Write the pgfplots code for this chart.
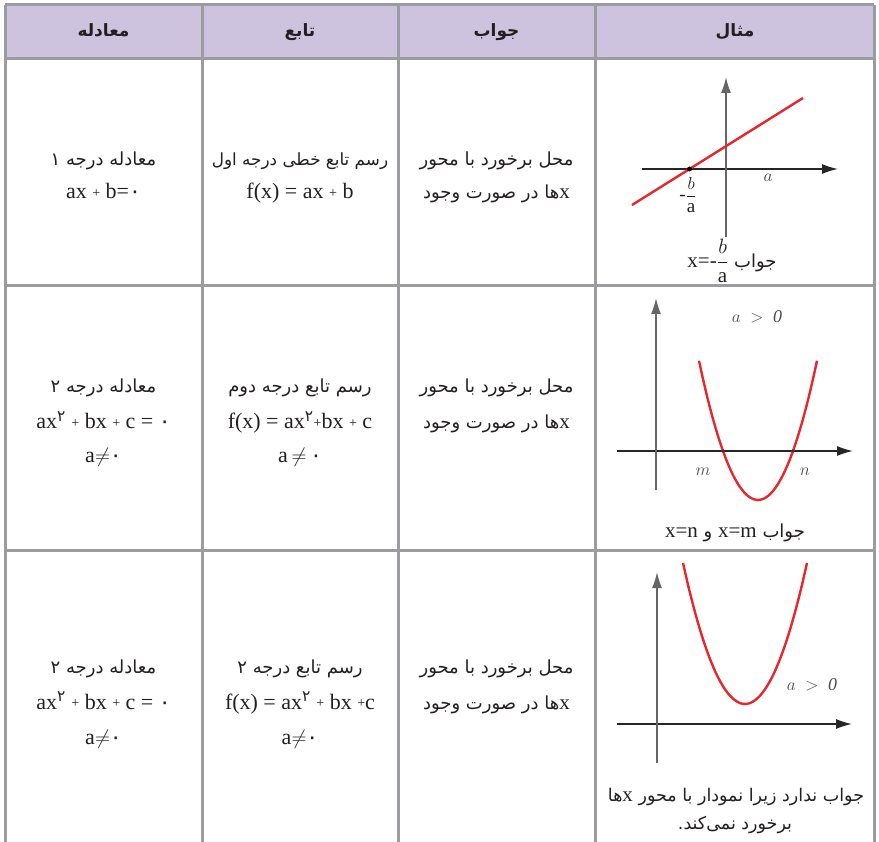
\documentclass[border=0pt]{standalone}
\usepackage{amsmath}
\usepackage{pgfplots}
\pgfplotsset{compat=1.18}
\usetikzlibrary{arrows.meta}
\usepackage{fontspec}
\setmainfont{Liberation Serif}
\newfontfamily\fa[Script=Arabic]{DejaVu Sans}
\TeXXeTstate=1

\definecolor{gridgray}{HTML}{9B9BA0}
\definecolor{headfill}{HTML}{CEC3DF}
\definecolor{curvered}{HTML}{E8262B}
\definecolor{ink}{HTML}{231F20}

\newcommand\pl{\raisebox{1.8pt}{\fontsize{14}{14}\selectfont+}}
\newcommand\fz{{\fa ۰}}
\newcommand\lx[1]{\beginL{\rmfamily\fontsize{21}{21}\selectfont #1}\endL}

\pgfplotsset{
  mini/.style={
    axis lines=middle, x=1pt, y=1pt, anchor=south west,
    enlargelimits=false, clip=false,
    xtick=\empty, ytick=\empty,
    x axis line style={-{Latex[length=16pt,width=10pt]}, black!85, line width=1.4pt},
    y axis line style={-{Latex[length=16pt,width=10pt]}, black!60, line width=1.4pt},
  },
  curve/.style={curvered, line width=2.4pt, smooth, no marks},
}

\begin{document}
\begin{tikzpicture}[x=1pt,y=1pt]
\useasboundingbox (0,0) rectangle (879,-842);

% table frame
\fill[headfill] (5,-5) rectangle (874,-59);
\begin{scope}[gridgray, line width=3pt]
  \draw (5,-5) -- (874,-5);
  \draw (5,-59) -- (874,-59);
  \draw (5,-286) -- (874,-286);
  \draw (5,-550) -- (874,-550);
  \foreach \xx in {5,202,398,595,874} \draw (\xx,-5) -- (\xx,-842);
\end{scope}

% header
\begin{scope}[every node/.style={anchor=base, text=ink, font=\fa\bfseries\fontsize{17}{17}\selectfont}]
  \node at (103.5,-37) {\beginR معادله\endR};
  \node at (300,-37) {\beginR تابع\endR};
  \node at (496.5,-37) {\beginR جواب\endR};
  \node at (735,-37) {\beginR مثال\endR};
\end{scope}

% body text
\begin{scope}[every node/.style={anchor=base, text=ink, inner sep=0pt}]
  \tikzset{fa/.style={font=\fa\fontsize{18}{18}\selectfont}, la/.style={font=\rmfamily\fontsize{22}{22}\selectfont}}
  % row 1
  \node[fa] at (103.5,-166) {\beginR معادله درجه ۱\endR};
  \node[la] at (103.5,-199) {ax \pl\ b=\fz};
  \node[fa, font=\fa\fontsize{16.8}{16.8}\selectfont] at (300,-166) {\beginR رسم تابع خطی درجه اول\endR};
  \node[la] at (300,-199) {f(x) = ax \pl\ b};
  \node[fa] at (496.5,-166) {\beginR محل برخورد با محور\endR};
  \node[fa] at (496.5,-199) {\beginR\lx{x}ها در صورت وجود\endR};
  % row 2
  \node[fa] at (103.5,-393) {\beginR معادله درجه ۲\endR};
  \node[la] at (103.5,-429) {ax\textsuperscript{\fa ۲} \pl\ bx \pl\ c = \fz};
  \node[la] at (103.5,-463) {a$\neq$\fz};
  \node[fa] at (300,-393) {\beginR رسم تابع درجه دوم\endR};
  \node[la] at (300,-429) {f(x) = ax\textsuperscript{\fa ۲}\pl bx \pl\ c};
  \node[la] at (300,-463) {a\,$\neq$\,\fz};
  \node[fa] at (496.5,-393) {\beginR محل برخورد با محور\endR};
  \node[fa] at (496.5,-429) {\beginR\lx{x}ها در صورت وجود\endR};
  % row 3
  \node[fa] at (103.5,-673) {\beginR معادله درجه ۲\endR};
  \node[la] at (103.5,-709) {ax\textsuperscript{\fa ۲} \pl\ bx \pl\ c = \fz};
  \node[la] at (103.5,-744) {a$\neq$\fz};
  \node[fa] at (300,-673) {\beginR رسم تابع درجه ۲\endR};
  \node[la] at (300,-709) {f(x) = ax\textsuperscript{\fa ۲} \pl\ bx \pl c};
  \node[la] at (300,-744) {a$\neq$\fz};
  \node[fa] at (496.5,-673) {\beginR محل برخورد با محور\endR};
  \node[fa] at (496.5,-709) {\beginR\lx{x}ها در صورت وجود\endR};
  % example column captions
  \node[fa] at (732,-268) {\beginR جواب \lx{x=-$\dfrac{b}{\text{a}}$}\endR};
  \node[fa] at (735,-537) {\beginR جواب \lx{x=m}{} و \lx{x=n}\endR};
  \node[fa, font=\fa\fontsize{17.5}{17.5}\selectfont] at (736,-801) {\beginR جواب ندارد زیرا نمودار با محور \lx{x}ها\endR};
  \node[fa, font=\fa\fontsize{17.5}{17.5}\selectfont] at (735,-829) {\beginR برخورد نمی‌کند.\endR};
  % labels of example 1
  \node[anchor=center, font=\fontsize{19}{19}\selectfont, text=black!75] at (768,-178) {$a$};
  \node[anchor=center, font=\fontsize{19}{19}\selectfont] at (688,-195) {-$\dfrac{b}{\text{a}}$};
\end{scope}

% example 1: straight line
\begin{scope}[shift={(642,-237)}]
\begin{axis}[mini, at={(0,0)}, xmin=-84, xmax=112, ymin=-68, ymax=92]
  \addplot[curve] coordinates {(-94,-36) (77,71)};
  \addplot[only marks, mark=*, mark size=2.2pt, black] coordinates {(-36.5,0)};
\end{axis}
\end{scope}

% example 2: parabola with two roots
\begin{axis}[mini, at={(617,-490)}, xmin=-39, xmax=197, ymin=-39, ymax=153]
  \addplot[curve] coordinates {
    (43,90.2) (47,72) (52,51) (57,32) (62,15) (67,0) (72,-13) (77,-24)
    (82,-33) (87,-40) (92,-45) (97,-48) (102,-49) (107,-48) (112,-45)
    (117,-40) (122,-33) (127,-24) (132,-13) (137,0) (142,15) (147,32)
    (152,51) (157,72) (161,90.2)};
  \addplot[only marks, mark=*, mark size=1.4pt, black!80] coordinates {(67,0) (137,0)};
  \node[font=\fontsize{18}{18}\selectfont, text=black!70] at (axis cs:101,134) {$a\;>\;\mathit{0}$};
  \node[font=\fontsize{19}{19}\selectfont, text=black!70] at (axis cs:47,-21) {$m$};
  \node[font=\fontsize{19}{19}\selectfont, text=black!70] at (axis cs:149,-21) {$n$};
\end{axis}

% example 3: parabola above the x axis
\begin{axis}[mini, at={(617,-763)}, xmin=-40, xmax=195, ymin=-39, ymax=152]
  \addplot[curve] coordinates {
    (26,161.1) (30,143.5) (33,131) (38,111.8) (43,94.3) (48,78.7) (53,65)
    (58,53) (63,42.9) (68,34.7) (73,28.3) (78,23.7) (83,20.9) (88,20)
    (93,20.9) (98,23.7) (103,28.3) (108,34.7) (113,42.9) (118,53) (123,65)
    (128,78.7) (133,94.3) (138,111.8) (143,131) (146,143.5) (150,161.1)};
  \node[font=\fontsize{18}{18}\selectfont, text=black!70] at (axis cs:155,39) {$a\;>\;\mathit{0}$};
\end{axis}
\end{tikzpicture}
\end{document}
